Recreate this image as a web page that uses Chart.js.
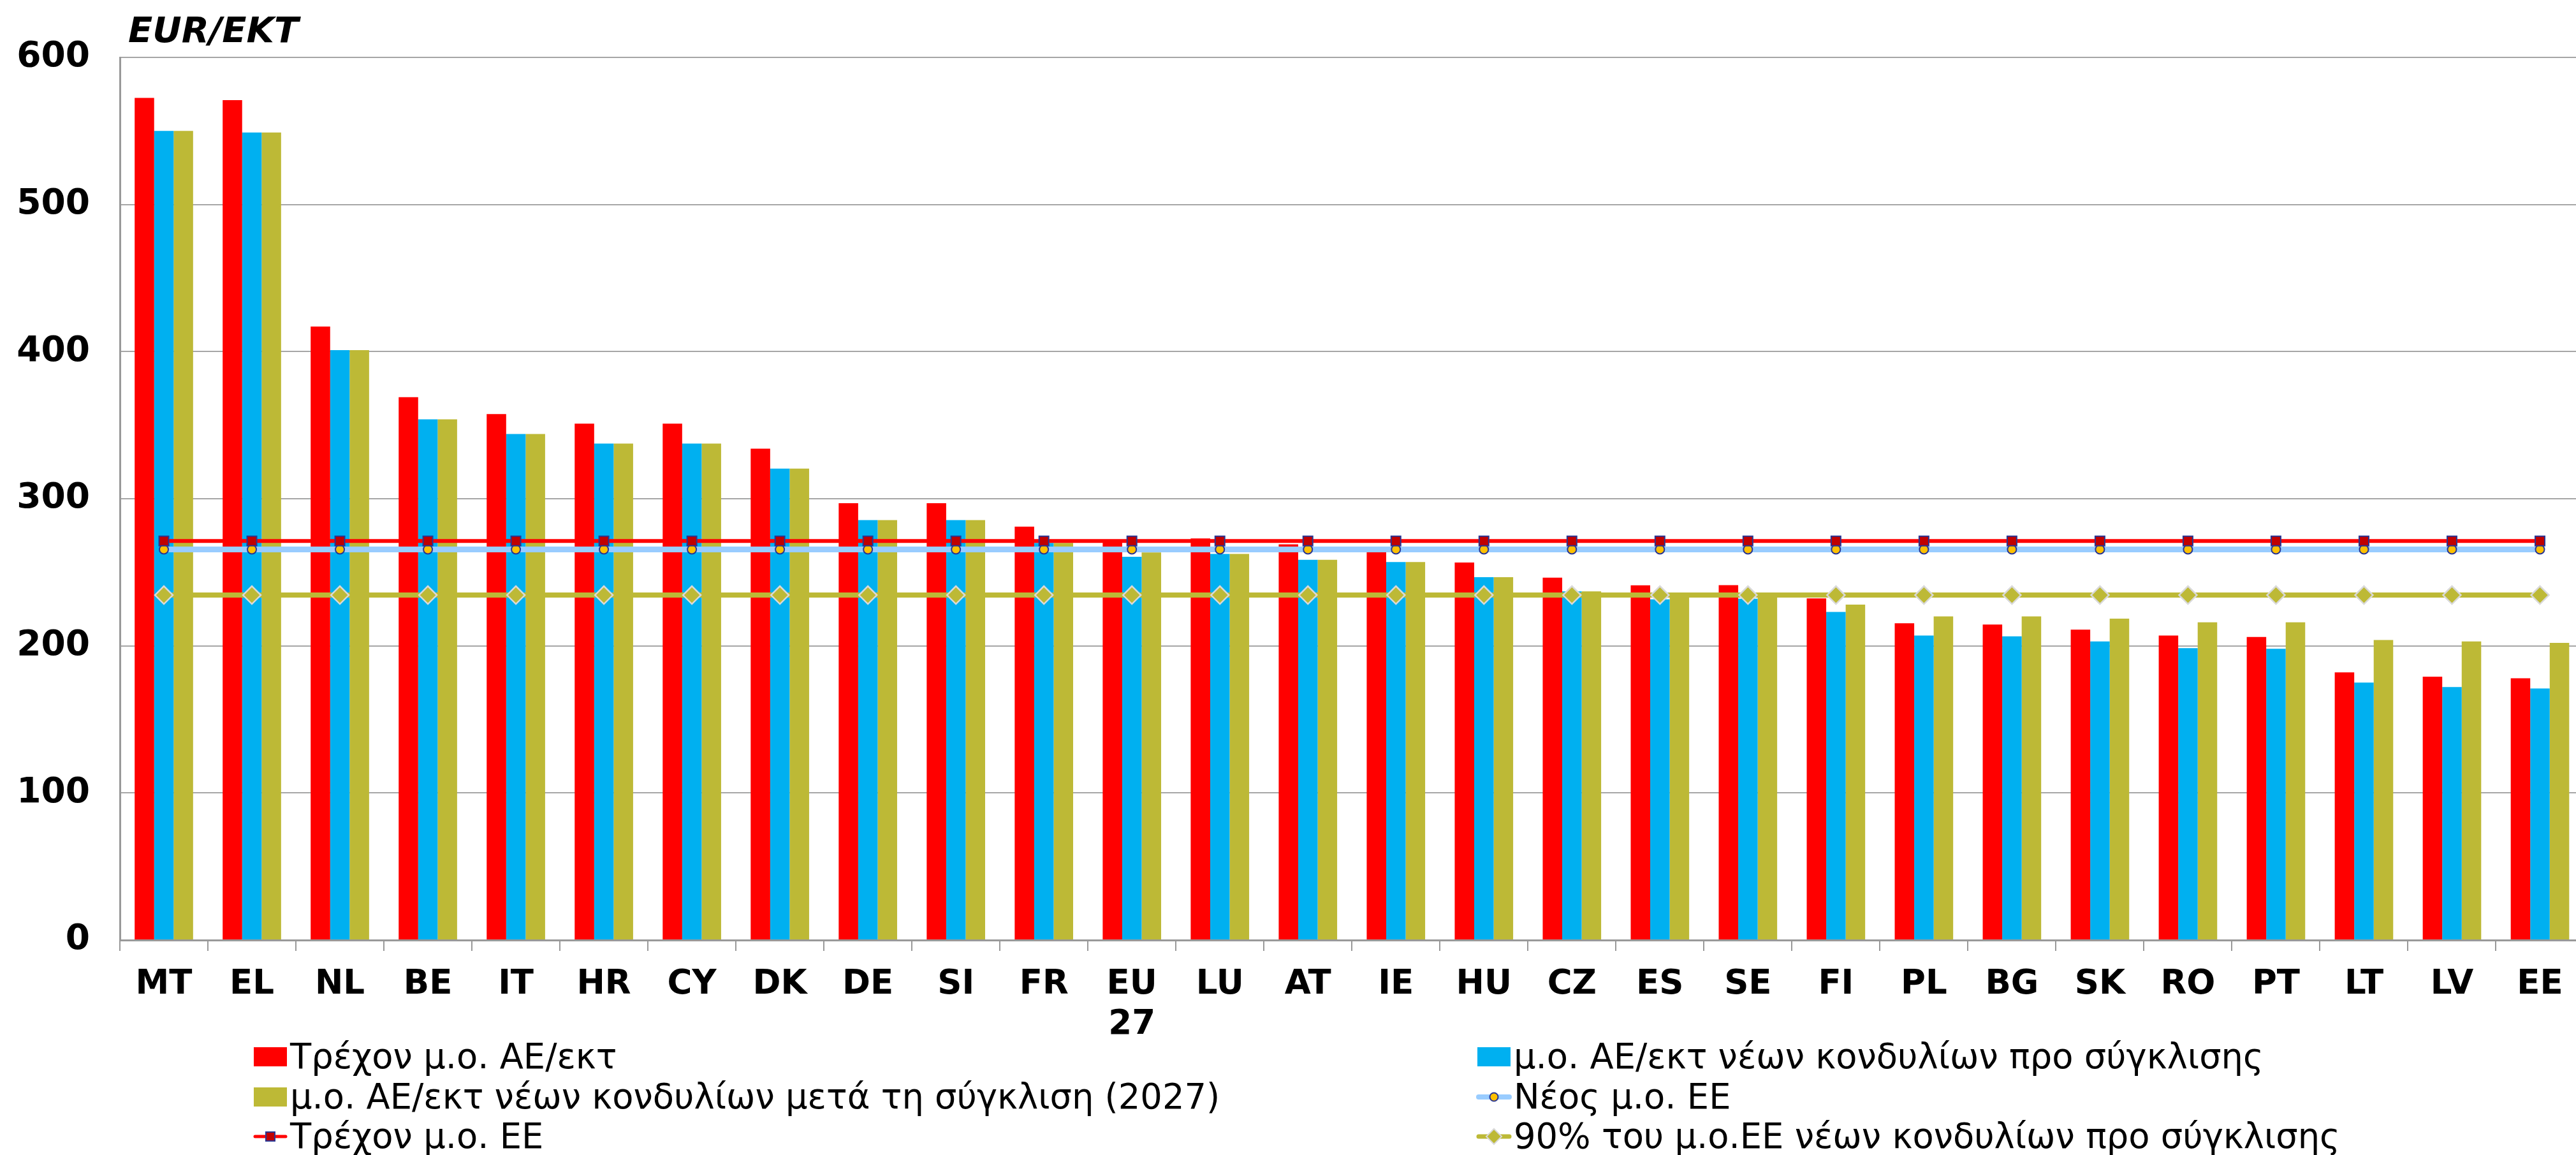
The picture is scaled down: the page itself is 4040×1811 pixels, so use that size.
<!DOCTYPE html>
<html>
<head>
<meta charset="utf-8">
<script src="https://cdn.jsdelivr.net/npm/chart.js@4.4.1/dist/chart.umd.min.js"></script>
<style>
  html, body { margin: 0; padding: 0; background: #fff; overflow: hidden; }
  #wrap { position: relative; width: 4040px; height: 1811px; overflow: hidden; }
  #chart { position: absolute; left: 0; top: 0; }
  #unit { position: absolute; left: 201px; top: 19px; font: italic bold 56px "DejaVu Sans"; line-height: 56px; color: #000; }
  .item { position: absolute; display: flex; align-items: center; height: 63px; font: 54.3px "DejaVu Sans"; line-height: 63px; white-space: nowrap; color: #000; }
  .item canvas { display: block; margin-right: 3px; }
</style>
</head>
<body>
<div id="wrap">
  <canvas id="chart" width="4069" height="1811"></canvas>
  <div id="unit">EUR/EKT</div>
  <div id="legend"></div>
</div>
<script>
// EUR per head
const countries = ["MT", "EL", "NL", "BE", "IT", "HR", "CY", "DK", "DE", "SI", "FR", ["EU", "27"], "LU", "AT", "IE", "HU", "CZ", "ES", "SE", "FI", "PL", "BG", "SK", "RO", "PT", "LT", "LV", "EE"];

const currentPerHead = [572.5, 571, 417, 369, 357.5, 351, 351, 334, 297, 297, 281, 271.5, 273, 269, 267.5, 256.7, 246.3, 241.1, 241.3, 232.3, 215.3, 214.5, 211, 207, 206, 182, 179, 178];
const newBeforeConv = [550, 549, 401, 354, 344, 337.5, 337.5, 320.5, 285.5, 285.5, 270, 260.5, 262.5, 258.5, 257, 246.7, 237, 231.6, 232, 223, 207, 206.5, 203, 198.5, 198, 175, 172, 171];
const newAfterConv = [550, 549, 401, 354, 344, 337.5, 337.5, 320.5, 285.5, 285.5, 270, 263.5, 262.5, 258.5, 257, 246.7, 237, 233.5, 233, 228, 220, 220, 218.5, 216, 216, 204, 203, 202];

const currentEuAvg = [271.3, 271.3, 271.3, 271.3, 271.3, 271.3, 271.3, 271.3, 271.3, 271.3, 271.3, 271.3, 271.3, 271.3, 271.3, 271.3, 271.3, 271.3, 271.3, 271.3, 271.3, 271.3, 271.3, 271.3, 271.3, 271.3, 271.3, 271.3];
const newEuAvg = [265.5, 265.5, 265.5, 265.5, 265.5, 265.5, 265.5, 265.5, 265.5, 265.5, 265.5, 265.5, 265.5, 265.5, 265.5, 265.5, 265.5, 265.5, 265.5, 265.5, 265.5, 265.5, 265.5, 265.5, 265.5, 265.5, 265.5, 265.5];
const ninetyPct = [234.5, 234.5, 234.5, 234.5, 234.5, 234.5, 234.5, 234.5, 234.5, 234.5, 234.5, 234.5, 234.5, 234.5, 234.5, 234.5, 234.5, 234.5, 234.5, 234.5, 234.5, 234.5, 234.5, 234.5, 234.5, 234.5, 234.5, 234.5];

const seriesNames = [
    "Τρέχον μ.ο. ΑΕ/εκτ",
    "μ.ο. ΑΕ/εκτ νέων κονδυλίων προ σύγκλισης",
    "μ.ο. ΑΕ/εκτ νέων κονδυλίων μετά τη σύγκλιση (2027)",
    "Τρέχον μ.ο. ΕΕ",
    "Νέος μ.ο. ΕΕ",
    "90% του μ.ο.ΕΕ νέων κονδυλίων προ σύγκλισης"
];

const RED = "#FF0000";
const BLUE = "#00B0F0";
const OLIVE = "#BDB936";
const NAVY = "#283593";
const xFont = { family: "DejaVu Sans", size: 53, weight: "bold" };
const yFont = { family: "DejaVu Sans", size: 55, weight: "bold" };

const chart = new Chart(document.getElementById("chart"), {
    type: "bar",
    data: {
        labels: countries,
        datasets: [
            { label: seriesNames[0], data: currentPerHead, backgroundColor: RED, order: 5 },
            { label: seriesNames[1], data: newBeforeConv, backgroundColor: BLUE, order: 5 },
            { label: seriesNames[2], data: newAfterConv, backgroundColor: OLIVE, order: 5 },
            {
                type: "line", label: seriesNames[3], data: currentEuAvg,
                borderColor: RED, borderWidth: 6, fill: false, tension: 0,
                pointStyle: "rect", pointRadius: 10.6,
                pointBackgroundColor: "#C00000", pointBorderColor: NAVY, pointBorderWidth: 2,
                order: 0
            },
            {
                type: "line", label: seriesNames[4], data: newEuAvg,
                borderColor: "#99CCFF", borderWidth: 9, fill: false, tension: 0,
                pointStyle: "circle", pointRadius: 7,
                pointBackgroundColor: "#FFC000", pointBorderColor: NAVY, pointBorderWidth: 2,
                order: 1
            },
            {
                type: "line", label: seriesNames[5], data: ninetyPct,
                borderColor: OLIVE, borderWidth: 8, fill: false, tension: 0,
                pointStyle: "rectRot", pointRadius: 14,
                pointBackgroundColor: OLIVE, pointBorderColor: "#D9D9D9", pointBorderWidth: 2.5,
                order: 2
            }
        ]
    },
    options: {
        responsive: false,
        devicePixelRatio: 1,
        animation: false,
        layout: { padding: { top: 90, left: 0, right: 0, bottom: 0 } },
        datasets: {
            bar: { categoryPercentage: 0.664, barPercentage: 1, borderWidth: 0 }
        },
        plugins: {
            legend: { display: false },
            tooltip: { enabled: false },
            title: { display: false }
        },
        scales: {
            x: {
                offset: true,
                grid: { offset: true, drawOnChartArea: false, tickLength: 17, color: "#999", lineWidth: 2 },
                border: { color: "#999", width: 3 },
                ticks: { font: xFont, color: "#000", padding: 21, maxRotation: 0, autoSkip: false },
                afterFit: (scale) => { scale.height = 337; }
            },
            y: {
                min: 0,
                max: 600,
                ticks: { stepSize: 100, font: yFont, color: "#000", padding: 47 },
                grid: { color: "#A6A6A6", lineWidth: 2, drawTicks: false },
                border: { color: "#999", width: 3 },
                afterFit: (scale) => { scale.width = 188; }
            }
        }
    }
});

// legend in two columns, built from the chart's datasets
function legendMarker(ds) {
    const c = document.createElement("canvas");
    c.width = 56;
    c.height = 30;
    const g = c.getContext("2d");
    if (!ds.type) {
        g.fillStyle = ds.backgroundColor;
        g.fillRect(2, 0, 52, 30);
        return c;
    }
    g.strokeStyle = ds.borderColor;
    g.lineWidth = ds.borderWidth - 1;
    g.lineCap = "round";
    g.beginPath();
    g.moveTo(4, 15);
    g.lineTo(52, 15);
    g.stroke();
    g.fillStyle = ds.pointBackgroundColor;
    g.strokeStyle = ds.pointBorderColor;
    g.lineWidth = 2;
    g.beginPath();
    if (ds.pointStyle === "rect") {
        g.rect(21, 8, 14, 14);
    } else if (ds.pointStyle === "circle") {
        g.arc(28, 15, 6.5, 0, Math.PI * 2);
    } else {
        g.moveTo(28, 3); g.lineTo(40, 15); g.lineTo(28, 27); g.lineTo(16, 15); g.closePath();
    }
    g.fill();
    g.stroke();
    return c;
}

const legendSlots = [
    { ds: 0, left: 396, top: 1625 },
    { ds: 1, left: 2315, top: 1625 },
    { ds: 2, left: 396, top: 1688 },
    { ds: 4, left: 2315, top: 1688 },
    { ds: 3, left: 396, top: 1750 },
    { ds: 5, left: 2315, top: 1750 }
];

const legendBox = document.getElementById("legend");
legendSlots.forEach(slot => {
    const ds = chart.data.datasets[slot.ds];
    const item = document.createElement("div");
    item.className = "item";
    item.style.left = slot.left + "px";
    item.style.top = slot.top + "px";
    item.appendChild(legendMarker(ds));
    const txt = document.createElement("span");
    txt.textContent = ds.label;
    item.appendChild(txt);
    legendBox.appendChild(item);
});
</script>
</body>
</html>
